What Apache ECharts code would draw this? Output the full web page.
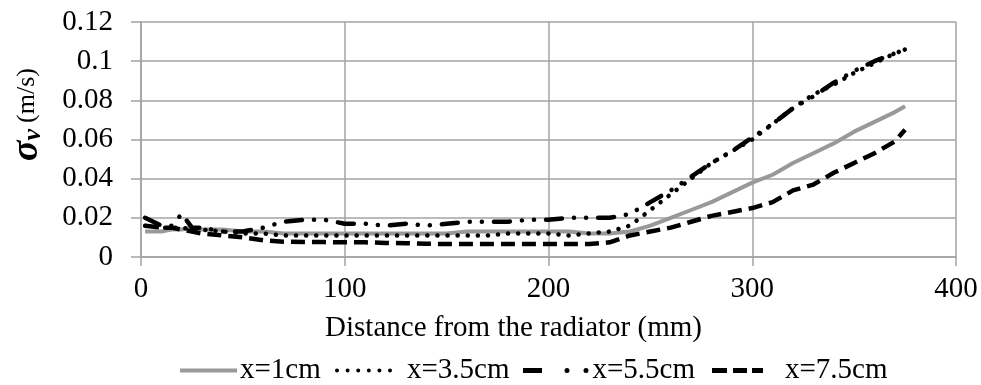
<!DOCTYPE html>
<html>
<head>
<meta charset="utf-8">
<script src="https://cdn.jsdelivr.net/npm/echarts@6/dist/echarts.min.js"></script>
<style>
html,body{margin:0;padding:0;background:#fff;}
#c{width:981px;height:385px;}
</style>
</head>
<body>
<div id="c"></div>
<script>
var distance = [2,10,15,20,25,30,40,50,60,70,80,90,100,110,120,130,140,150,160,170,180,190,200,210,220,230,240,250,260,270,280,290,300,310,320,330,340,350,360,370,375];
var seriesNames = ['x=1cm','x=3.5cm','x=5.5cm','x=7.5cm'];
var x1cm = [0.013,0.013,0.014,0.014,0.015,0.014,0.014,0.013,0.013,0.012,0.012,0.012,0.012,0.012,0.012,0.012,0.012,0.012,0.013,0.013,0.013,0.013,0.013,0.013,0.012,0.012,0.013,0.016,0.020,0.024,0.028,0.033,0.038,0.042,0.048,0.053,0.058,0.064,0.069,0.074,0.077];
var x35cm = [0.016,0.015,0.015,0.015,0.014,0.014,0.013,0.012,0.012,0.011,0.011,0.011,0.011,0.011,0.011,0.011,0.011,0.011,0.011,0.011,0.012,0.012,0.012,0.011,0.012,0.013,0.016,0.024,0.032,0.040,0.048,0.054,0.060,0.068,0.076,0.083,0.088,0.094,0.099,0.104,0.106];
var x55cm = [0.020,0.016,0.016,0.022,0.015,0.015,0.013,0.013,0.015,0.018,0.019,0.019,0.017,0.017,0.016,0.017,0.016,0.017,0.018,0.018,0.018,0.019,0.019,0.020,0.020,0.020,0.022,0.028,0.034,0.041,0.048,0.054,0.061,0.068,0.076,0.082,0.089,0.095,0.100,0.104,0.106];
var x75cm = [0.016,0.015,0.015,0.014,0.013,0.012,0.011,0.010,0.0085,0.0078,0.0076,0.0076,0.0075,0.0075,0.0072,0.007,0.0068,0.0066,0.0066,0.0066,0.0066,0.0066,0.0066,0.0066,0.0066,0.0075,0.011,0.013,0.015,0.018,0.021,0.023,0.025,0.028,0.034,0.037,0.043,0.048,0.053,0.059,0.065];
var xTicks = [0,100,200,300,400];
var yTicks = [0,0.02,0.04,0.06,0.08,0.1,0.12];

function pairs(vals){ return distance.map(function(d,i){ return [d, vals[i]]; }); }

// legend icon paths (styling only)
function dot(cx,cy,r){ return 'M'+(cx-r)+','+cy+'a'+r+','+r+' 0 1,0 '+(2*r)+',0a'+r+','+r+' 0 1,0 '+(-2*r)+',0Z'; }
function rect(x0,y0,x1,y1){ return 'M'+x0+','+y0+'H'+x1+'V'+y1+'H'+x0+'Z'; }
var iconSolid = 'path://' + rect(0,0,57,4);
var iconDotted = 'path://' + [2,12.6,23.2,33.8,44.4,55].map(function(c){return dot(c,2,2);}).join('');
var iconDashDot = 'path://' + rect(0,0,19,5) + dot(44,2.5,2.5) + dot(63,2.5,2.5);
var iconDashed = 'path://' + rect(0,0,15,5) + rect(21,0,35,5) + rect(40,0,51,5);

var FONT = 'Liberation Serif';
var gridColor = '#a3a3a3';
function legendFor(name, left, w, h, icon, padLeft){
  return {data:[{name:name, icon:icon}], left:left, top:356, padding:0,
    itemWidth:w, itemHeight:h, itemGap:0, selectedMode:false,
    textStyle:{fontFamily:FONT,fontSize:29,color:'#000',padding:[0,0,0,padLeft]}};
}
var chart = echarts.init(document.getElementById('c'), null, {renderer:'canvas'});
chart.setOption({
  animation:false,
  backgroundColor:'#fff',
  grid:{left:138,right:25,top:22,bottom:128,containLabel:false},
  legend:[
    legendFor(seriesNames[0], 180, 57, 4, iconSolid, -2),
    legendFor(seriesNames[1], 335, 57, 4, iconDotted, 10),
    legendFor(seriesNames[2], 523, 65.5, 5, iconDashDot, -1),
    legendFor(seriesNames[3], 712, 51, 5, iconDashed, 17)
  ],
  xAxis:{
    type:'value',min:xTicks[0],max:xTicks[xTicks.length-1],interval:100,
    name:'Distance from the radiator (mm)',nameLocation:'middle',nameGap:57,
    nameTextStyle:{fontFamily:FONT,fontSize:29,color:'#000',padding:[0,70,0,0]},
    axisLine:{show:true,lineStyle:{color:gridColor,width:1.5}},
    axisTick:{show:true,length:9,lineStyle:{color:gridColor,width:1.5}},
    axisLabel:{fontFamily:FONT,fontSize:29,color:'#000',margin:18},
    splitLine:{show:true,lineStyle:{color:gridColor,width:1.5}}
  },
  yAxis:{
    type:'value',min:yTicks[0],max:yTicks[yTicks.length-1],interval:0.02,
    name:'{s|σ}{v|v}  {u|(m/s)}',nameLocation:'middle',nameGap:95,nameRotate:90,
    nameTextStyle:{fontFamily:FONT,color:'#000',padding:[0,0,0,50],rich:{
      s:{fontFamily:FONT,fontSize:38,fontStyle:'italic',fontWeight:'bold',color:'#000'},
      v:{fontFamily:FONT,fontSize:26,fontStyle:'italic',fontWeight:'bold',color:'#000',verticalAlign:'bottom'},
      u:{fontFamily:FONT,fontSize:26,color:'#000'}
    }},
    axisLine:{show:true,lineStyle:{color:gridColor,width:1.5}},
    axisTick:{show:true,length:10,lineStyle:{color:gridColor,width:1.5}},
    axisLabel:{fontFamily:FONT,fontSize:29,color:'#000',margin:28,
      formatter:function(v){ return String(Math.round(v*100)/100); }},
    splitLine:{show:true,lineStyle:{color:gridColor,width:1.5}}
  },
  series:[
    {name:seriesNames[0],type:'line',data:pairs(x1cm),showSymbol:false,symbol:'none',
      lineStyle:{color:'#999999',width:4},itemStyle:{color:'#999999'},z:2},
    {name:seriesNames[1],type:'line',data:pairs(x35cm),showSymbol:false,symbol:'none',
      lineStyle:{color:'#000',width:4.5,type:[0.1,10],cap:'round'},itemStyle:{color:'#000'},z:3},
    {name:seriesNames[2],type:'line',data:pairs(x55cm),showSymbol:false,symbol:'none',
      lineStyle:{color:'#000',width:4.5,type:[16,12,0.1,12,0.1,12],cap:'round'},itemStyle:{color:'#000'},z:4},
    {name:seriesNames[3],type:'line',data:pairs(x75cm),showSymbol:false,symbol:'none',
      lineStyle:{color:'#000',width:4.5,type:[14,7]},itemStyle:{color:'#000'},z:5}
  ]
});
</script>
</body>
</html>
